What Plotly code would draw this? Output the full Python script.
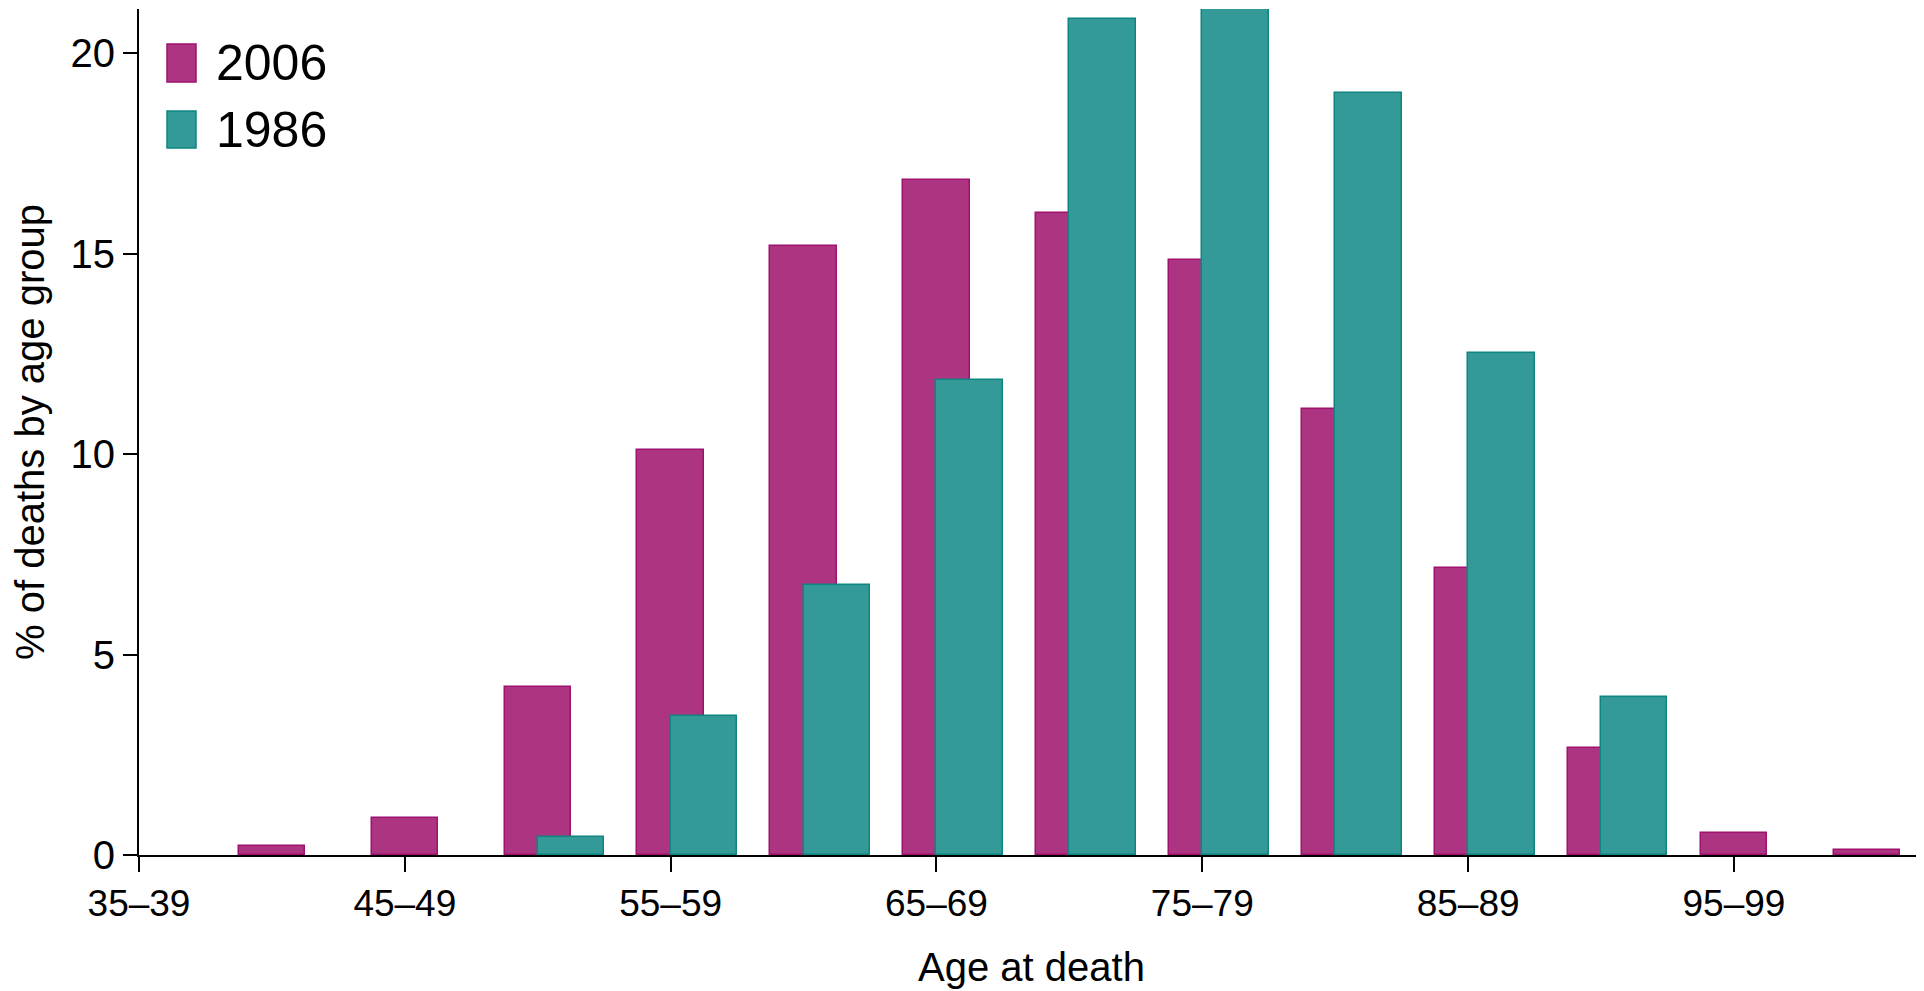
import plotly.graph_objects as go

age_groups = ["35–39", "40–44", "45–49", "50–54", "55–59", "60–64", "65–69",
              "70–74", "75–79", "80–84", "85–89", "90–94", "95–99", "100+"]
pct_2006 = [0.0, 0.23, 0.93, 4.18, 10.10, 15.19, 16.85, 16.03, 14.85, 11.12, 7.17, 2.66, 0.54, 0.12]
pct_1986 = [0.0, 0.0, 0.0, 0.46, 3.47, 6.73, 11.85, 20.87, 21.11, 19.02, 12.53, 3.95, 0.0, 0.0]
tick_idx = [0, 2, 4, 6, 8, 10, 12]
tick_text = [age_groups[i] for i in tick_idx]

c2006, c2006_line = "#AD3480", "#A0106F"
c1986, c1986_line = "#339A98", "#0E8580"
FONT = "Liberation Sans, Arial, Helvetica, sans-serif"

xi = list(range(len(age_groups)))
y2006 = [v if v > 0 else None for v in pct_2006]
y1986 = [v if v > 0 else None for v in pct_1986]

fig = go.Figure()
fig.add_trace(go.Bar(x=xi, y=y2006, width=0.5, offset=-0.25, name="2006",
                     marker=dict(color=c2006, line=dict(color=c2006_line, width=1.5)),
                     showlegend=False))
fig.add_trace(go.Bar(x=xi, y=y1986, width=0.5, offset=0.0, name="1986",
                     marker=dict(color=c1986, line=dict(color=c1986_line, width=1.5)),
                     showlegend=False))

# page has an 8px body margin; size figure to fit the 1924x991 window
OFF = 8
W, H = 1924 - OFF, 991 - OFF
ml, mr, mt, mb = 139 - OFF, 0, 9 - OFF, 991 - 855
pw, ph = W - ml - mr, H - mt - mb

def px(x):  # page x -> paper
    return (x - OFF - ml) / pw

def py(y):  # page y -> paper
    return 1 - (y - OFF - mt) / ph

legend_items = [("2006", c2006, c2006_line, 44, 82), ("1986", c1986, c1986_line, 111, 148)]
shapes = []
annotations = []
for label, fc, lc, y0, y1 in legend_items:
    shapes.append(dict(type="rect", xref="paper", yref="paper",
                       x0=px(167), x1=px(196), y0=py(y1), y1=py(y0),
                       fillcolor=fc, line=dict(color=lc, width=1.5)))
    annotations.append(dict(xref="paper", yref="paper", x=px(214), y=py((y0 + y1) / 2),
                            text=label, showarrow=False, xanchor="left", yanchor="middle",
                            font=dict(family=FONT, size=50, color="black")))

fig.update_layout(
    width=W, height=H,
    margin=dict(l=ml, r=mr, t=mt, b=mb, autoexpand=False),
    paper_bgcolor="white", plot_bgcolor="white",
    barmode="overlay", bargap=0,
    font=dict(family=FONT, color="black"),
    shapes=shapes, annotations=annotations,
    xaxis=dict(range=[0, 13.43], tickmode="array", tickvals=tick_idx, ticktext=tick_text,
               showline=True, linecolor="black", linewidth=2, automargin=False,
               ticks="outside", ticklen=15, tickwidth=2, tickcolor="black",
               tickfont=dict(size=37, family=FONT), showgrid=False, zeroline=False,
               title=dict(text="Age at death", font=dict(size=40, family=FONT), standoff=30)),
    yaxis=dict(range=[0, 21.11], tickmode="array", tickvals=[0, 5, 10, 15, 20],
               showline=True, linecolor="black", linewidth=2, automargin=False,
               ticks="outside", ticklen=14, tickwidth=2, tickcolor="black",
               tickfont=dict(size=40, family=FONT), showgrid=False, zeroline=False,
               title=dict(text="% of deaths by age group", font=dict(size=40, family=FONT), standoff=18)),
)

fig.write_html("out.html")
